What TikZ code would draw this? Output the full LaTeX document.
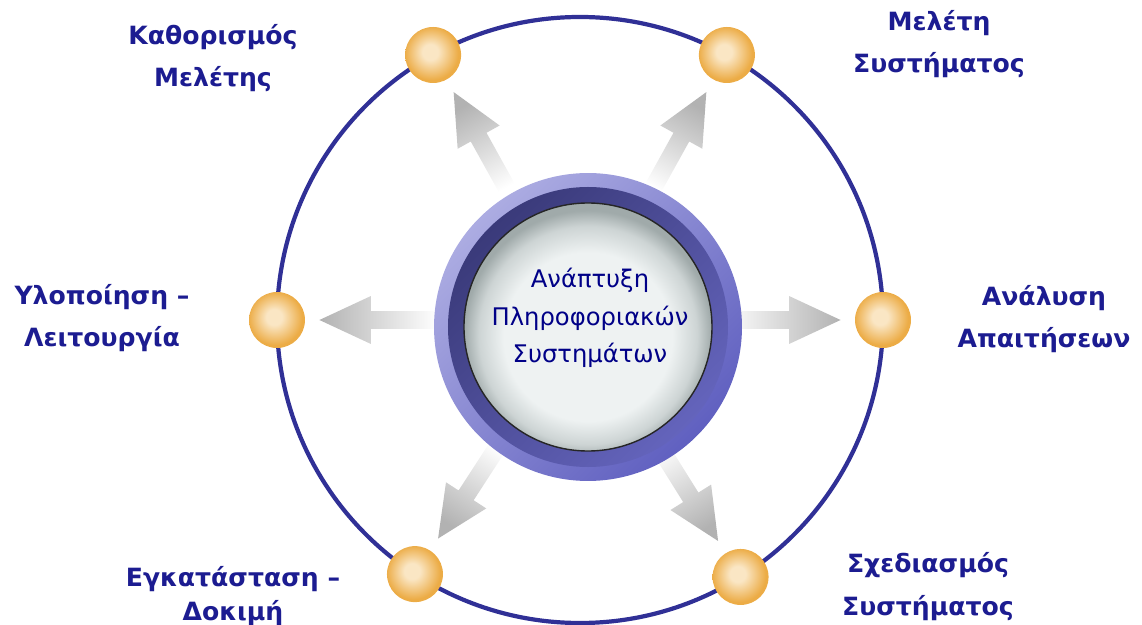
\documentclass[tikz,border=0pt]{standalone}
\usepackage{fontspec}
\setmainfont{DejaVu Sans}
\usepackage{tikz}
\usetikzlibrary{calc}
\definecolor{orbitblue}{RGB}{48,48,150}
\definecolor{labelblue}{RGB}{28,28,145}
\definecolor{hubnavy}{RGB}{0,0,135}
\definecolor{dotlight}{RGB}{250,230,196}
\definecolor{dotedge}{RGB}{236,172,70}
\definecolor{ringlight}{RGB}{172,172,226}
\definecolor{ringmid}{RGB}{76,76,152}
\definecolor{ringlow}{RGB}{96,96,192}
\definecolor{banddark}{RGB}{58,58,122}
\definecolor{bandlight}{RGB}{100,100,188}
\definecolor{disclight}{RGB}{238,242,242}
\definecolor{discmid}{RGB}{205,212,212}
\definecolor{discedge}{RGB}{160,170,170}
\definecolor{arrowgray}{RGB}{178,178,178}
\pgfdeclareradialshading{dotshade}{\pgfpoint{-3bp}{3bp}}{color(0bp)=(dotlight); color(7bp)=(dotlight); color(24bp)=(dotedge); color(50bp)=(dotedge)}
\pgfdeclareradialshading{discshade}{\pgfpoint{0bp}{-3bp}}{color(0bp)=(disclight); color(17bp)=(disclight); color(22bp)=(discmid); color(25bp)=(discedge); color(50bp)=(discedge)}
\tikzset{
  orbit/.style={draw=orbitblue,line width=2.4pt},
  stagedot/.style={circle,shade,shading=dotshade,minimum size=1.12cm,inner sep=0pt},
  flowarrow/.style={top color=arrowgray,bottom color=white},
  hubring/.style={circle,minimum size=6.16cm,inner sep=0pt,top color=ringlight,
    middle color=ringmid,bottom color=ringlow,shading angle=45},
  hubtext/.style={font=\fontsize{13.8}{21.6}\selectfont,text=hubnavy,align=center,inner sep=0pt},
  stagelabel/.style={font=\fontsize{14.3}{24}\selectfont\bfseries,text=labelblue,
    align=center,inner sep=0pt}
}
\begin{document}
\begin{tikzpicture}[x=0.02cm,y=0.02cm]
  \useasboundingbox (-580,-305) rectangle (562,320);
  \coordinate (o) at (0,0);
  \draw[orbit] (o) circle (303);
  % stages on the orbit
  \foreach \a/\n in {119/1,61/2,0/3,302/4,237/5,180/6}
    \node[stagedot] (d\n) at (\a:303) {};
  % arrows from the centre
  \foreach \a/\n [evaluate=\a as \sa using \a-90] in {119/1,61/2,0/3,302/4,237/5,180/6}
    \shade[flowarrow,shading angle=\sa]
      ($(o)!0.47!(d\n)!0.18cm!90:(d\n)$) -- ($(o)!0.69!(d\n)!0.18cm!90:(d\n)$)
      -- ($(o)!0.69!(d\n)!0.48cm!90:(d\n)$) -- ($(o)!0.86!(d\n)$)
      -- ($(o)!0.69!(d\n)!0.48cm!-90:(d\n)$) -- ($(o)!0.69!(d\n)!0.18cm!-90:(d\n)$)
      -- ($(o)!0.47!(d\n)!0.18cm!-90:(d\n)$) -- cycle;
  % the hub
  \node[hubring] (hub) at (8,-7) {};
  \shade[top color=banddark,bottom color=bandlight,shading angle=45] (hub.center) circle (140);
  \shadedraw[shading=discshade,draw=black!85,line width=0.8pt] (hub.center) circle (124);
  \node[hubtext,anchor=base] (title) at (10,-43) {Ανάπτυξη\\Πληροφοριακών\\Συστημάτων};
  % labels
  \node[stagelabel,anchor=base] (s1) at (-367,233) {Καθορισμός\\Μελέτης};
  \node[stagelabel,anchor=base] (s2) at (359,247) {Μελέτη\\Συστήματος};
  \node[stagelabel,anchor=base] (s3) at (464,-28) {Ανάλυση\\Απαιτήσεων};
  \node[stagelabel,anchor=base] (s4) at (348,-295) {Σχεδιασμός\\Συστήματος};
  \node[stagelabel,anchor=base] (s5) at (-347,-300) {Εγκατάσταση –\\[-5pt]Δοκιμή};
  \node[stagelabel,anchor=base] (s6) at (-478,-27) {Υλοποίηση –\\Λειτουργία};
\end{tikzpicture}
\end{document}
